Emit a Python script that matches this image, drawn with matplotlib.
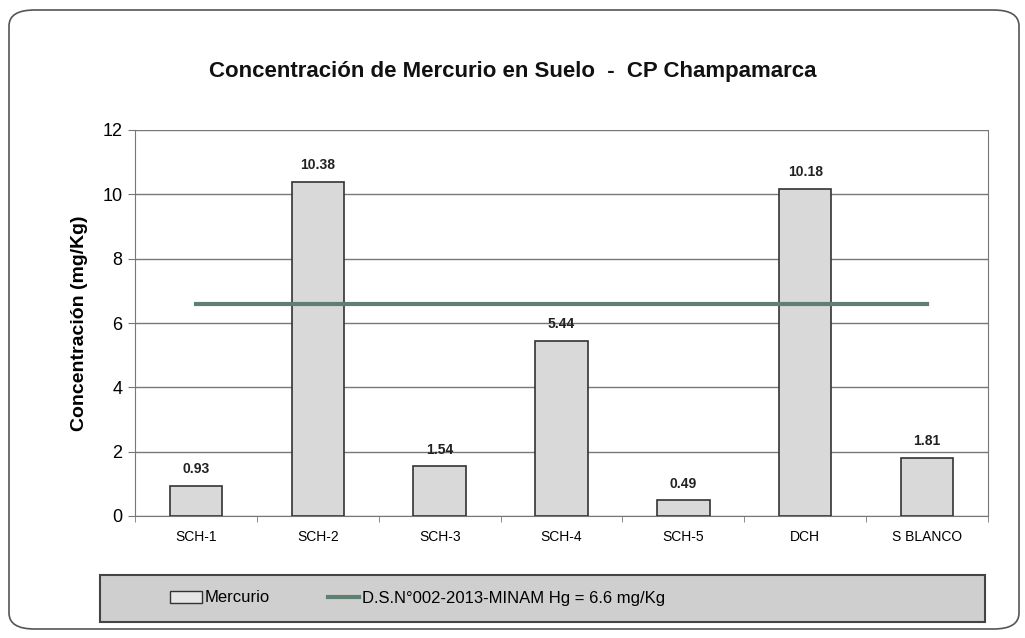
import numpy as np
import matplotlib.pyplot as plt
from matplotlib.patches import FancyBboxPatch, Rectangle
from matplotlib.lines import Line2D

plt.rcParams['font.family'] = ['Liberation Sans', 'DejaVu Sans']

# data
categories = ['SCH-1', 'SCH-2', 'SCH-3', 'SCH-4', 'SCH-5', 'DCH', 'S BLANCO']
mercurio = [0.93, 10.38, 1.54, 5.44, 0.49, 10.18, 1.81]
limite = 6.6

W, H = 1025, 638
fig = plt.figure(figsize=(W / 100, H / 100), dpi=100)

# outer rounded frame
frame = FancyBboxPatch((9 / W, 9 / H), 1010 / W, 619 / H,
                       boxstyle='round,pad=0,rounding_size=0.025',
                       transform=fig.transFigure, facecolor='none',
                       edgecolor='#555555', linewidth=1.2, zorder=-1)
fig.patches.append(frame)

ax = fig.add_axes([135 / W, 1 - 516 / H, 853 / W, 386 / H])
ax.set_facecolor('none')

x = np.arange(len(categories))
ax.bar(x, mercurio, width=0.43, color='#d9d9d9', edgecolor='#333333',
       linewidth=1.2, zorder=3)
ax.plot([x[0], x[-1]], [limite, limite], color='#5f7f70', linewidth=3, zorder=4)

for xi, v in zip(x, mercurio):
    ax.text(xi, v + 0.3, f'{v:.2f}', ha='center', va='bottom',
            fontsize=10, fontweight='bold', color='#222222')

ax.set_xlim(-0.5, len(categories) - 0.5)
ax.set_ylim(0, 12)
ax.set_yticks(range(0, 13, 2))
ax.tick_params(axis='y', labelsize=13, length=5, color='#777777', pad=4)
ax.set_xticks(x)
ax.set_xticklabels(categories, fontsize=10)
ax.tick_params(axis='x', length=0, pad=10)
ax.set_xticks(np.arange(-0.5, len(categories), 1), minor=True)
ax.tick_params(axis='x', which='minor', length=4, color='#777777')
ax.grid(axis='y', color='#777777', linewidth=1.0, zorder=0)
ax.spines['top'].set_visible(False)
ax.spines['right'].set_color('#777777')
ax.spines['left'].set_color('#777777')
ax.spines['bottom'].set_color('#777777')
ax.set_ylabel('Concentración (mg/Kg)', fontsize=14, fontweight='bold', labelpad=10)

fig.text(0.5, 1 - 72 / H, 'Concentración de Mercurio en Suelo  -  CP Champamarca',
         ha='center', va='center', fontsize=16, fontweight='bold', color='#111111')

# legend box
box = Rectangle((100 / W, 1 - 622 / H), 885 / W, 47 / H, transform=fig.transFigure,
                facecolor='#cfcfcf', edgecolor='#444444', linewidth=1.5, zorder=1)
fig.patches.append(box)
handles = [Rectangle((0, 0), 1, 1, facecolor='#e6e6e6', edgecolor='#333333'),
           Line2D([0], [0], color='#5f7f70', linewidth=3)]
labels = ['Mercurio', 'D.S.N°002-2013-MINAM Hg = 6.6 mg/Kg']
fig.legend(handles, labels, loc='center left', bbox_to_anchor=(155 / W, 1 - 598 / H),
           ncol=2, frameon=False, fontsize=12, handlelength=1.9,
           handletextpad=0.15, columnspacing=3.5)

fig.savefig('out.png', dpi=100)
